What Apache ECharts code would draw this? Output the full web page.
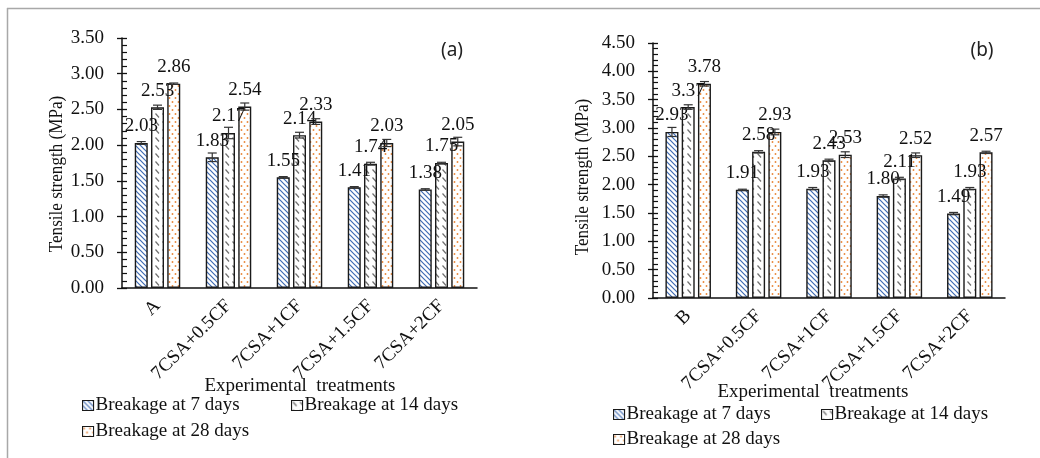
<!DOCTYPE html>
<html>
<head>
<meta charset="utf-8">
<script src="https://cdn.jsdelivr.net/npm/echarts@6/dist/echarts.min.js"></script>
<style>
html,body{margin:0;padding:0;background:#fff;}
#c{width:1040px;height:458px;}
</style>
</head>
<body>
<div id="c"></div>
<script>
// ---- data ----
const seriesNames = ['Breakage at 7 days', 'Breakage at 14 days', 'Breakage at 28 days'];
const catsA = ['A', '7CSA+0.5CF', '7CSA+1CF', '7CSA+1.5CF', '7CSA+2CF'];
const catsB = ['B', '7CSA+0.5CF', '7CSA+1CF', '7CSA+1.5CF', '7CSA+2CF'];
const a7 = [2.03, 1.83, 1.55, 1.41, 1.38];
const a14 = [2.53, 2.17, 2.14, 1.74, 1.75];
const a28 = [2.86, 2.54, 2.33, 2.03, 2.05];
const a7err = [0.02, 0.06, 0.01, 0.01, 0.01];
const a14err = [0.03, 0.08, 0.04, 0.02, 0.01];
const a28err = [0.01, 0.05, 0.04, 0.05, 0.06];
const b7 = [2.93, 1.91, 1.93, 1.80, 1.49];
const b14 = [3.37, 2.58, 2.43, 2.11, 1.93];
const b28 = [3.78, 2.93, 2.53, 2.52, 2.57];
const b7err = [0.08, 0.01, 0.02, 0.02, 0.02];
const b14err = [0.04, 0.02, 0.02, 0.02, 0.02];
const b28err = [0.04, 0.05, 0.05, 0.04, 0.02];
const yTicksA = {min: 0, max: 3.5, interval: 0.5};
const yTicksB = {min: 0, max: 4.5, interval: 0.5};
const xTitle = 'Experimental  treatments';
const yTitle = 'Tensile strength (MPa)';

// ---- patterns ----
function makePattern(kind) {
  const c = document.createElement('canvas');
  const ctx = c.getContext('2d');
  if (kind === 7) {
    c.width = 5; c.height = 5;
    ctx.fillStyle = '#fff'; ctx.fillRect(0, 0, 5, 5);
    ctx.strokeStyle = '#3f6cb4'; ctx.lineWidth = 1.2;
    ctx.beginPath();
    ctx.moveTo(-1, -1); ctx.lineTo(6, 6);
    ctx.moveTo(-1, 4); ctx.lineTo(1, 6);
    ctx.moveTo(4, -1); ctx.lineTo(6, 1);
    ctx.stroke();
  } else if (kind === 14) {
    c.width = 7; c.height = 8;
    ctx.fillStyle = '#fff'; ctx.fillRect(0, 0, 7, 8);
    ctx.strokeStyle = '#6f6f6f'; ctx.lineWidth = 1.2;
    ctx.beginPath();
    ctx.moveTo(1.5, 1.5); ctx.lineTo(5, 5.5);
    ctx.stroke();
  } else {
    c.width = 6; c.height = 8;
    ctx.fillStyle = '#fff'; ctx.fillRect(0, 0, 6, 8);
    ctx.fillStyle = '#e8873a';
    ctx.beginPath(); ctx.arc(1.5, 2, 0.95, 0, Math.PI * 2); ctx.fill();
    ctx.beginPath(); ctx.arc(4.5, 6, 0.95, 0, Math.PI * 2); ctx.fill();
  }
  return {image: c, repeat: 'repeat'};
}
const patterns = [makePattern(7), makePattern(14), makePattern(28)];

const FONT = "'Liberation Serif', 'Times New Roman', serif";
const FS = 19;
const BAR_W = 13, STEP = 16.25;

function barSeries(name, idx, data, xi) {
  return {
    type: 'bar', name: name, xAxisIndex: xi, yAxisIndex: xi * 2,
    data: data, barWidth: BAR_W, barGap: '25%',
    itemStyle: {color: patterns[idx], borderColor: '#1a1a1a', borderWidth: 1.4},
    label: {show: true, position: 'top', distance: 7, color: '#111',
      fontFamily: FONT, fontSize: FS, formatter: p => p.value.toFixed(2)},
    z: 2
  };
}
function errSeries(idx, vals, errs, xi) {
  return {
    type: 'custom', xAxisIndex: xi, yAxisIndex: xi * 2, z: 5, silent: true,
    data: vals.map((v, i) => [i, v, errs[i]]),
    renderItem: function (params, api) {
      const i = api.value(0), v = api.value(1), e = api.value(2);
      const off = (idx - 1) * STEP;
      const top = api.coord([i, v + e]);
      const bot = api.coord([i, v - e]);
      const x = top[0] + off;
      const hw = 4.5;
      const st = {stroke: '#333', lineWidth: 1.2};
      return {type: 'group', children: [
        {type: 'line', shape: {x1: x, y1: top[1], x2: x, y2: bot[1]}, style: st},
        {type: 'line', shape: {x1: x - hw, y1: top[1], x2: x + hw, y2: top[1]}, style: st},
        {type: 'line', shape: {x1: x - hw, y1: bot[1], x2: x + hw, y2: bot[1]}, style: st}
      ]};
    }
  };
}
function xAxis(cats, gi) {
  return {
    type: 'category', gridIndex: gi, data: cats,
    axisLine: {lineStyle: {color: '#111', width: 1.5}},
    axisTick: {show: false},
    axisLabel: {rotate: 45, interval: 0, margin: 15, color: '#111', fontFamily: FONT, fontSize: FS}
  };
}
function yAxes(t, gi) {
  return [{
    type: 'value', gridIndex: gi, min: t.min, max: t.max, interval: t.interval,
    splitLine: {show: false},
    axisLine: {show: true, lineStyle: {color: '#111', width: 1.5}},
    axisTick: {show: true, inside: false, length: 5, lineStyle: {color: '#111', width: 1.3}},
    axisLabel: {margin: 18, color: '#111', fontFamily: FONT, fontSize: FS, formatter: v => v.toFixed(2)}
  }, {
    type: 'value', gridIndex: gi, min: t.min, max: t.max, interval: t.interval, position: 'left',
    splitLine: {show: false},
    axisLine: {show: false},
    axisLabel: {show: false},
    axisTick: {show: true, inside: true, length: 5, lineStyle: {color: '#111', width: 1.3}},
    minorTick: {show: true, splitNumber: 5, length: 5, lineStyle: {color: '#111', width: 1.2}}
  }];
}
function legendItem(name, left, top) {
  return {
    data: [name], left: left, top: top, padding: 0, itemWidth: 11, itemHeight: 10, itemGap: 3,
    icon: 'rect', selectedMode: false,
    itemStyle: {borderWidth: 1.1, borderColor: '#1a1a1a'},
    textStyle: {color: '#111', fontFamily: FONT, fontSize: FS, padding: [0, 0, 0, -3]}
  };
}
function titleText(text, x, y, rot, size, sx) {
  return {type: 'text', x: x, y: y, rotation: rot, scaleX: sx,
    style: {text: text, fill: '#111', font: size + "px 'Liberation Serif', 'Times New Roman', serif",
      align: 'center', verticalAlign: 'middle'}};
}

const chart = echarts.init(document.getElementById('c'), null, {renderer: 'canvas'});
chart.setOption({
  animation: false,
  backgroundColor: '#fff',
  grid: [
    {left: 122, top: 38, width: 355, height: 250},
    {left: 653, top: 43, width: 352, height: 255}
  ],
  xAxis: [xAxis(catsA, 0), xAxis(catsB, 1)],
  yAxis: [...yAxes(yTicksA, 0), ...yAxes(yTicksB, 1)],
  legend: [
    legendItem(seriesNames[0], 82, 396),
    legendItem(seriesNames[1], 291, 396),
    legendItem(seriesNames[2], 82, 422),
    legendItem(seriesNames[0], 613, 405),
    legendItem(seriesNames[1], 821, 405),
    legendItem(seriesNames[2], 613, 430)
  ],
  graphic: [
    {type: 'line', shape: {x1: 7, y1: 8.5, x2: 1040, y2: 8.5}, style: {stroke: '#a8a8a8', lineWidth: 1.5}},
    {type: 'line', shape: {x1: 7.5, y1: 8, x2: 7.5, y2: 458}, style: {stroke: '#a8a8a8', lineWidth: 1.5}},
    {type: 'text', x: 452, y: 51, style: {text: '(a)', fill: '#222', font: "19px 'Noto Sans', sans-serif", align: 'center', verticalAlign: 'middle'}},
    {type: 'text', x: 982, y: 51, style: {text: '(b)', fill: '#222', font: "19px 'Noto Sans', sans-serif", align: 'center', verticalAlign: 'middle'}},
    titleText(xTitle, 300, 386, 0, FS, 1),
    titleText(xTitle, 813, 392, 0, FS, 1),
    titleText(yTitle, 57, 174, Math.PI / 2, 19, 0.9),
    titleText(yTitle, 583, 177, Math.PI / 2, 19, 0.9)
  ],
  series: [
    barSeries(seriesNames[0], 0, a7, 0),
    barSeries(seriesNames[1], 1, a14, 0),
    barSeries(seriesNames[2], 2, a28, 0),
    errSeries(0, a7, a7err, 0),
    errSeries(1, a14, a14err, 0),
    errSeries(2, a28, a28err, 0),
    barSeries(seriesNames[0], 0, b7, 1),
    barSeries(seriesNames[1], 1, b14, 1),
    barSeries(seriesNames[2], 2, b28, 1),
    errSeries(0, b7, b7err, 1),
    errSeries(1, b14, b14err, 1),
    errSeries(2, b28, b28err, 1)
  ]
});
</script>
</body>
</html>
